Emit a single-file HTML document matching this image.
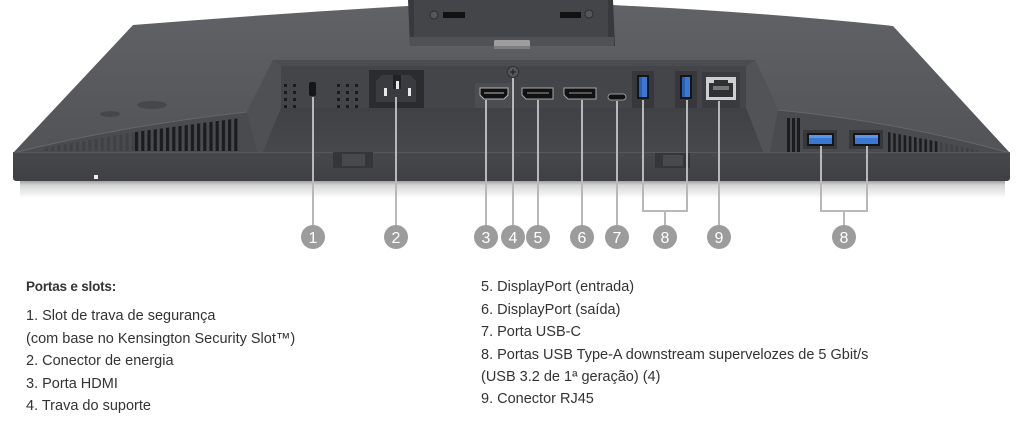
<!DOCTYPE html>
<html><head><meta charset="utf-8">
<style>
html,body{margin:0;padding:0;background:#fff;}
body{width:1020px;height:425px;position:relative;overflow:hidden;font-family:"Liberation Sans",Arial,sans-serif;color:#333;}
svg{position:absolute;left:0;top:0;}
.t{position:absolute;font-size:14.5px;line-height:22px;white-space:nowrap;}
.h{font-weight:bold;font-size:13.5px;letter-spacing:-0.2px;}
</style></head><body>
<svg width="1020" height="425" viewBox="0 0 1020 425">
<defs>
 <linearGradient id="top" x1="0" y1="0" x2="0" y2="1">
  <stop offset="0" stop-color="#616265"/><stop offset="1" stop-color="#525356"/>
 </linearGradient>
 <linearGradient id="shadow" x1="0" y1="0" x2="0" y2="1">
  <stop offset="0" stop-color="#a0a0a0"/><stop offset="0.25" stop-color="#d6d6d6"/><stop offset="1" stop-color="#ffffff"/>
 </linearGradient>
 <linearGradient id="floor" x1="0" y1="0" x2="0" y2="1">
  <stop offset="0" stop-color="#404144"/><stop offset="1" stop-color="#47484b"/>
 </linearGradient>
 <linearGradient id="bez" x1="0" y1="0" x2="0" y2="1">
  <stop offset="0" stop-color="#47484b"/><stop offset="1" stop-color="#3f4043"/>
 </linearGradient>
 <pattern id="vent" x="135" width="6.2" height="20" patternUnits="userSpaceOnUse"><rect width="3.2" height="20" fill="#1b1c1e"/></pattern>
 <pattern id="ventf" x="45" width="6.2" height="20" patternUnits="userSpaceOnUse"><rect width="3" height="20" fill="#404144"/></pattern>
 <pattern id="ventr" x="888" width="5.2" height="20" patternUnits="userSpaceOnUse"><rect width="2.6" height="20" fill="#1b1c1e"/></pattern>
 <pattern id="ventrf" x="940" width="5.2" height="20" patternUnits="userSpaceOnUse"><rect width="2.6" height="20" fill="#404144"/></pattern>
</defs>

<!-- shadow -->
<rect x="20" y="181" width="985" height="17" fill="url(#shadow)"/>

<!-- body top -->
<path d="M13,153 L133,25 Q270,14 408,6 L612,5 Q760,12 893,26 L1010,153 Z" fill="url(#top)"/>

<!-- stand cutout -->
<path d="M408,0 L613,0 L615,46 L410,46 Z" fill="#38393c"/>
<rect x="414" y="0" width="194" height="37" fill="#444548"/>
<rect x="410" y="37" width="204" height="9" fill="#505154"/>
<rect x="443" y="12" width="22" height="6" fill="#111"/>
<rect x="560" y="12" width="21" height="6" fill="#111"/>
<circle cx="434" cy="15" r="4" fill="#55565a" stroke="#2c2d2f"/>
<circle cx="589" cy="14" r="4" fill="#55565a" stroke="#2c2d2f"/>
<rect x="494" y="40" width="36" height="9" rx="1.5" fill="#9d9d9e"/>
<rect x="494" y="46" width="36" height="3" fill="#7d7d7f"/>

<!-- bumps on left -->
<ellipse cx="110" cy="114" rx="10" ry="3" fill="#46474a"/>
<ellipse cx="152" cy="105" rx="15" ry="4" fill="#46474a"/>

<!-- left vent band -->
<path d="M13,154 Q120,126 247,112 L258,152 Z" fill="#4a4b4e"/>
<path d="M13,153 Q120,126 247,112" stroke="#65666a" stroke-width="1" fill="none"/>
<path d="M135,132 L240,118 L240,151 L135,151 Z" fill="url(#vent)"/>
<path d="M45,148 L135,132 L135,151 L45,151 Z" fill="url(#ventf)"/>

<!-- right band -->
<path d="M778,110 Q900,122 1010,153 L770,153 Z" fill="#4a4b4e"/>
<path d="M778,110 Q900,122 1010,153" stroke="#65666a" stroke-width="1" fill="none"/>
<rect x="787" y="118" width="3" height="34" fill="#1b1c1e"/>
<rect x="792" y="118" width="3" height="34" fill="#1b1c1e"/>
<rect x="797" y="118" width="3" height="34" fill="#1b1c1e"/>
<path d="M888,132 L940,142 L940,152 L888,152 Z" fill="url(#ventr)"/>
<path d="M940,142 L978,150 L978,152 L940,152 Z" fill="url(#ventrf)"/>

<!-- recess -->
<path d="M273,60 L755,60 L778,110 L770,152 L257,152 L247,112 Z" fill="#424346"/>
<path d="M273,60 L755,60 L746,66 L281,66 Z" fill="#4b4c4f"/>
<path d="M273,60 L281,66 L281,108 L263,152 L257,152 L247,112 Z" fill="#4f5053"/>
<path d="M755,60 L746,66 L746,108 L763,152 L770,152 L778,110 Z" fill="#525356"/>
<rect x="281" y="66" width="465" height="42" fill="#444548"/>
<path d="M281,108 L746,108 L763,152 L263,152 Z" fill="url(#floor)"/>

<!-- vent dots -->
<g fill="#1a1b1d">
 <rect x="284" y="84" width="3" height="3"/><rect x="293" y="84" width="3" height="3"/>
 <rect x="284" y="91" width="3" height="3"/><rect x="293" y="91" width="3" height="3"/>
 <rect x="284" y="98" width="3" height="3"/><rect x="293" y="98" width="3" height="3"/>
 <rect x="284" y="105" width="3" height="3"/><rect x="293" y="105" width="3" height="3"/>
 <rect x="337" y="84" width="3" height="3"/><rect x="346" y="84" width="3" height="3"/><rect x="355" y="84" width="3" height="3"/>
 <rect x="337" y="91" width="3" height="3"/><rect x="346" y="91" width="3" height="3"/><rect x="355" y="91" width="3" height="3"/>
 <rect x="337" y="98" width="3" height="3"/><rect x="346" y="98" width="3" height="3"/><rect x="355" y="98" width="3" height="3"/>
 <rect x="337" y="105" width="3" height="3"/><rect x="346" y="105" width="3" height="3"/><rect x="355" y="105" width="3" height="3"/>
</g>
<!-- kensington -->
<rect x="309" y="82" width="7" height="14" rx="2" fill="#151617"/>

<!-- power -->
<rect x="369" y="70" width="55" height="38" fill="#2b2c2e"/>
<path d="M376,81 L382,75 L410,75 L416,81 L416,102 L376,102 Z" fill="#3a3b3e"/>
<rect x="393" y="75" width="8" height="14" fill="#222"/>
<rect x="384" y="88" width="3" height="8" fill="#e8e8e8"/>
<rect x="396" y="81" width="3" height="8" fill="#e8e8e8"/>
<rect x="408" y="88" width="3" height="8" fill="#e8e8e8"/>

<!-- HDMI -->
<rect x="475" y="83" width="36" height="25" fill="#4c4d50"/>
<path d="M480,88 L508,88 L508,95 L504,99 L484,99 L480,95 Z" fill="#111" stroke="#b5b5b5" stroke-width="1"/>
<rect x="484" y="92" width="20" height="2" fill="#666"/>

<!-- screw -->
<circle cx="513" cy="72" r="5.5" fill="#58595c" stroke="#2e2f31" stroke-width="1"/>
<path d="M510,72 L516,72 M513,69 L513,75" stroke="#222" stroke-width="1.2"/>

<!-- DP -->
<path d="M522,88 L553,88 L553,99 L526,99 L522,95 Z" fill="#111" stroke="#a8a8a8" stroke-width="1"/>
<rect x="527" y="92" width="22" height="2" fill="#555"/>
<path d="M564,88 L596,88 L596,99 L568,99 L564,95 Z" fill="#111" stroke="#a8a8a8" stroke-width="1"/>
<rect x="569" y="92" width="23" height="2" fill="#555"/>

<!-- USB-C -->
<rect x="608" y="94" width="18" height="6" rx="3" fill="#111" stroke="#999" stroke-width="1"/>

<!-- USB-A vertical -->
<rect x="632" y="71" width="22" height="37" fill="#37383b"/>
<rect x="637" y="75" width="12" height="24" fill="#151515"/>
<rect x="639" y="77" width="8" height="20" fill="#3a78d4"/>
<rect x="639" y="77" width="3" height="20" fill="#2a5fb3"/>
<rect x="675" y="71" width="22" height="37" fill="#37383b"/>
<rect x="680" y="75" width="12" height="24" fill="#151515"/>
<rect x="682" y="77" width="8" height="20" fill="#3a78d4"/>
<rect x="682" y="77" width="3" height="20" fill="#2a5fb3"/>

<!-- RJ45 -->
<rect x="702" y="72" width="38" height="36" fill="#3a3b3e"/>
<rect x="706" y="77" width="30" height="23" fill="#cfcfcf"/>
<rect x="709" y="80" width="24" height="17" fill="#2f3032"/>
<rect x="709" y="80" width="5" height="3" fill="#cfcfcf"/>
<rect x="728" y="80" width="5" height="3" fill="#cfcfcf"/>
<rect x="713" y="86" width="16" height="4" fill="#777"/>

<!-- bezel -->
<path d="M13,152 L1010,152 L1010,178 Q1010,181 1006,181 L17,181 Q13,181 13,178 Z" fill="url(#bez)"/>
<line x1="13" y1="152.5" x2="1010" y2="152.5" stroke="#57585b" stroke-width="1"/>
<rect x="94" y="175" width="4" height="4" fill="#eeeeee"/>
<!-- clips -->
<rect x="333" y="152" width="40" height="16" fill="#353639"/>
<rect x="342" y="154" width="23" height="12" fill="#48494c"/>
<rect x="655" y="153" width="35" height="15" fill="#353639"/>
<rect x="663" y="155" width="20" height="11" fill="#48494c"/>

<!-- right USB-A -->
<rect x="803" y="130" width="34" height="19" fill="#37383b"/>
<rect x="807" y="133" width="27" height="13" fill="#151515"/>
<rect x="809" y="135" width="23" height="9" fill="#3a78d4"/>
<rect x="809" y="135" width="23" height="3" fill="#5d95e6"/>
<rect x="849" y="130" width="34" height="19" fill="#37383b"/>
<rect x="853" y="133" width="27" height="13" fill="#151515"/>
<rect x="855" y="135" width="23" height="9" fill="#3a78d4"/>
<rect x="855" y="135" width="23" height="3" fill="#5d95e6"/>

<!-- callout lines -->
<g stroke="#b8b8b8" stroke-width="2" fill="none">
 <line x1="313" y1="97" x2="313" y2="226"/>
 <line x1="396" y1="97" x2="396" y2="226"/>
 <line x1="486" y1="100" x2="486" y2="226"/>
 <line x1="513" y1="78" x2="513" y2="226"/>
 <line x1="538" y1="100" x2="538" y2="226"/>
 <line x1="582" y1="100" x2="582" y2="226"/>
 <line x1="617" y1="101" x2="617" y2="226"/>
 <path d="M643,100 L643,211 L687,211 L687,100 M665,211 L665,226"/>
 <line x1="719" y1="101" x2="719" y2="226"/>
 <path d="M821,146 L821,211 L867,211 L867,146 M844,211 L844,226"/>
</g>
<!-- circles -->
<g fill="#9c9c9c">
 <circle cx="313" cy="237" r="12"/>
 <circle cx="396" cy="237" r="12"/>
 <circle cx="486" cy="237" r="12"/>
 <circle cx="513" cy="237" r="12"/>
 <circle cx="538" cy="237" r="12"/>
 <circle cx="582" cy="237" r="12"/>
 <circle cx="617" cy="237" r="12"/>
 <circle cx="665" cy="237" r="12"/>
 <circle cx="719" cy="237" r="12"/>
 <circle cx="844" cy="237" r="12"/>
</g>
<g fill="#ffffff" font-family="Liberation Sans, Arial, sans-serif" font-size="16" text-anchor="middle">
 <text x="313" y="243">1</text>
 <text x="396" y="243">2</text>
 <text x="486" y="243">3</text>
 <text x="513" y="243">4</text>
 <text x="538" y="243">5</text>
 <text x="582" y="243">6</text>
 <text x="617" y="243">7</text>
 <text x="665" y="243">8</text>
 <text x="719" y="243">9</text>
 <text x="844" y="243">8</text>
</g>
</svg>

<div class="t h" style="left:26px;top:276px;">Portas e slots:</div>
<div class="t" style="left:26px;top:305px;">1. Slot de trava de segurança</div>
<div class="t" style="left:26px;top:328px;">(com base no Kensington Security Slot™)</div>
<div class="t" style="left:26px;top:350px;">2. Conector de energia</div>
<div class="t" style="left:26px;top:373px;">3. Porta HDMI</div>
<div class="t" style="left:26px;top:395px;">4. Trava do suporte</div>

<div class="t" style="left:481px;top:276px;">5. DisplayPort (entrada)</div>
<div class="t" style="left:481px;top:299px;">6. DisplayPort (saída)</div>
<div class="t" style="left:481px;top:321px;">7. Porta USB-C</div>
<div class="t" style="left:481px;top:344px;">8. Portas USB Type-A downstream supervelozes de 5 Gbit/s</div>
<div class="t" style="left:481px;top:366px;">(USB 3.2 de 1ª geração) (4)</div>
<div class="t" style="left:481px;top:388px;">9. Conector RJ45</div>
</body></html>
